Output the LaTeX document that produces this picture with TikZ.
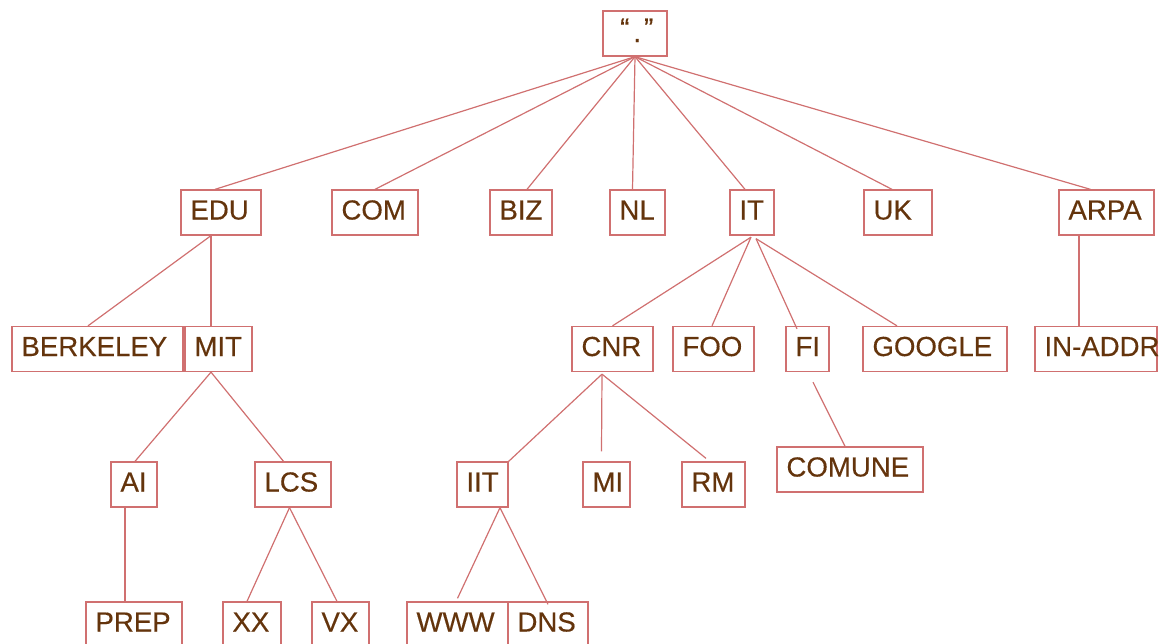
\documentclass[tikz,border=0pt]{standalone}
\usepackage{fontspec}
\setmainfont{Liberation Sans}[FakeBold=0.4]
\newfontfamily\labelfont{Liberation Sans}[FakeBold=0.35]
\definecolor{edgecol}{RGB}{208,112,112}
\definecolor{txtcol}{RGB}{100,52,12}
\tikzset{
  box/.style={draw=edgecol, line width=1.3pt, text=txtcol,
    font=\labelfont\fontsize{27.6}{30}\selectfont, inner xsep=8pt, inner ysep=0pt,
    minimum height=45pt, text height=20pt, text depth=6pt, align=left,
    execute at begin node=\hspace*{1.5pt}},
  link/.style={draw=edgecol, line width=1.2pt}
}
\begin{document}
\begin{tikzpicture}[x=1pt, y=-1pt]
\useasboundingbox (0,0) rectangle (1160,643);
\clip (0,0) rectangle (1160,643);

% root of the name space
\node[box, minimum width=64pt, inner xsep=0pt, align=center] (root) at (635,33.5)
  {\hspace{2pt}\raisebox{3pt}{“}\hspace{4pt}\raisebox{-1.5pt}{.}\hspace{3pt}\raisebox{3pt}{”}};

% top-level domains
\node[box, text width=64pt] (edu)  at (221,212.5)    {EDU};
\node[box, text width=70pt] (com)  at (375,212.5)    {COM};
\node[box, text width=46pt] (biz)  at (521,212.5)    {BIZ};
\node[box, text width=39pt] (nl)   at (637.5,212.5)  {NL};
\node[box, text width=28pt] (it)   at (752,212.5)    {IT};
\node[box, text width=52pt] (uk)   at (898,212.5)    {UK};
\node[box, text width=79pt] (arpa) at (1106.5,212.5) {ARPA};

% second level
\node[box, text width=155pt] (berkeley) at (97.5,349)  {BERKELEY};
\node[box, text width=51pt]  (mit)      at (218.5,349)  {MIT};
\node[box, text width=65pt]  (cnr)      at (612.5,349)  {CNR};
\node[box, text width=65pt]  (foo)      at (713.5,349)  {FOO};
\node[box, text width=27pt]  (fi)       at (807.5,349)  {FI};
\node[box, text width=128pt] (google)   at (935,349)    {GOOGLE};
\node[box, text width=106pt] (inaddr)   at (1096,349)   {\mbox{IN-ADDR}};

% third level
\node[box, text width=130pt] (comune) at (850,469.5)   {COMUNE};
\node[box, text width=30pt]  (ai)     at (134,484.5)   {AI};
\node[box, text width=60pt]  (lcs)    at (293,484.5)   {LCS};
\node[box, text width=35pt]  (iit)    at (482.5,484.5) {IIT};
\node[box, text width=31pt]  (mi)     at (606.5,484.5) {MI};
\node[box, text width=47pt]  (rm)     at (713.5,484.5) {RM};

% fourth level
\node[box, text width=80pt] (prep) at (134,624.5)   {PREP};
\node[box, text width=42pt] (xx)   at (252,624.5)   {XX};
\node[box, text width=41pt] (vx)   at (340.5,624.5) {VX};
\node[box, text width=85pt] (www)  at (457.5,624.5) {WWW};
\node[box, text width=64pt] (dns)  at (548,624.5)   {DNS};

% links from the root
\draw[link] (root.south) -- ([xshift=-6pt]edu.north);
\draw[link] (root.south) -- (com.north);
\draw[link] (root.south) -- ([xshift=6pt]biz.north);
\draw[link] (root.south) -- ([xshift=-5pt]nl.north);
\draw[link] (root.south) -- ([xshift=-7pt]it.north);
\draw[link] (root.south) -- ([xshift=-6pt]uk.north);
\draw[link] (root.south) -- ([xshift=-16pt]arpa.north);

% EDU subtree
\draw[link] ([xshift=-10pt]edu.south) -- ([xshift=-9.5pt]berkeley.north);
\draw[link] ([xshift=-10pt]edu.south) -- ([xshift=-7.5pt]mit.north);
\draw[link] ([xshift=-7.5pt]mit.south) -- ([xshift=1pt]ai.north);
\draw[link] ([xshift=-7.5pt]mit.south) -- ([xshift=-9.5pt]lcs.north);
\draw[link] ([xshift=-9pt]ai.south) -- ([xshift=-9pt]prep.north);
\draw[link] ([xshift=-3.5pt]lcs.south) -- ([xshift=-5pt]xx.north);
\draw[link] ([xshift=-3.5pt]lcs.south) -- ([xshift=-3.5pt]vx.north);

% IT subtree
\draw[link] ([xshift=-1pt,yshift=-1.5pt]it.south) -- (cnr.north);
\draw[link] ([xshift=-1pt,yshift=-1.5pt]it.south) -- ([xshift=-1.5pt]foo.north);
\draw[link] ([xshift=4pt,yshift=-3pt]it.south) -- ([xshift=-10.5pt,yshift=-3pt]fi.north);
\draw[link] ([xshift=4pt,yshift=-3pt]it.south) -- ([xshift=-38pt]google.north);
\draw[link] ([xshift=5.5pt,yshift=-10pt]fi.south) -- ([xshift=-5pt]comune.north);
\draw[link] ([xshift=-10.5pt,yshift=-2pt]cnr.south) -- (iit.north east);
\draw[link] ([xshift=-10.5pt,yshift=-2pt]cnr.south) -- ([xshift=-5pt,yshift=10pt]mi.north);
\draw[link] ([xshift=-10.5pt,yshift=-2pt]cnr.south) -- ([xshift=-7.5pt,yshift=3pt]rm.north);
\draw[link] ([xshift=17.5pt]iit.south) -- ([yshift=3pt]www.north);
\draw[link] ([xshift=17.5pt]iit.south) -- ([yshift=-3pt]dns.north);

% ARPA subtree
\draw[link] ([xshift=-27.5pt]arpa.south) -- ([xshift=-17pt]inaddr.north);
\end{tikzpicture}
\end{document}
